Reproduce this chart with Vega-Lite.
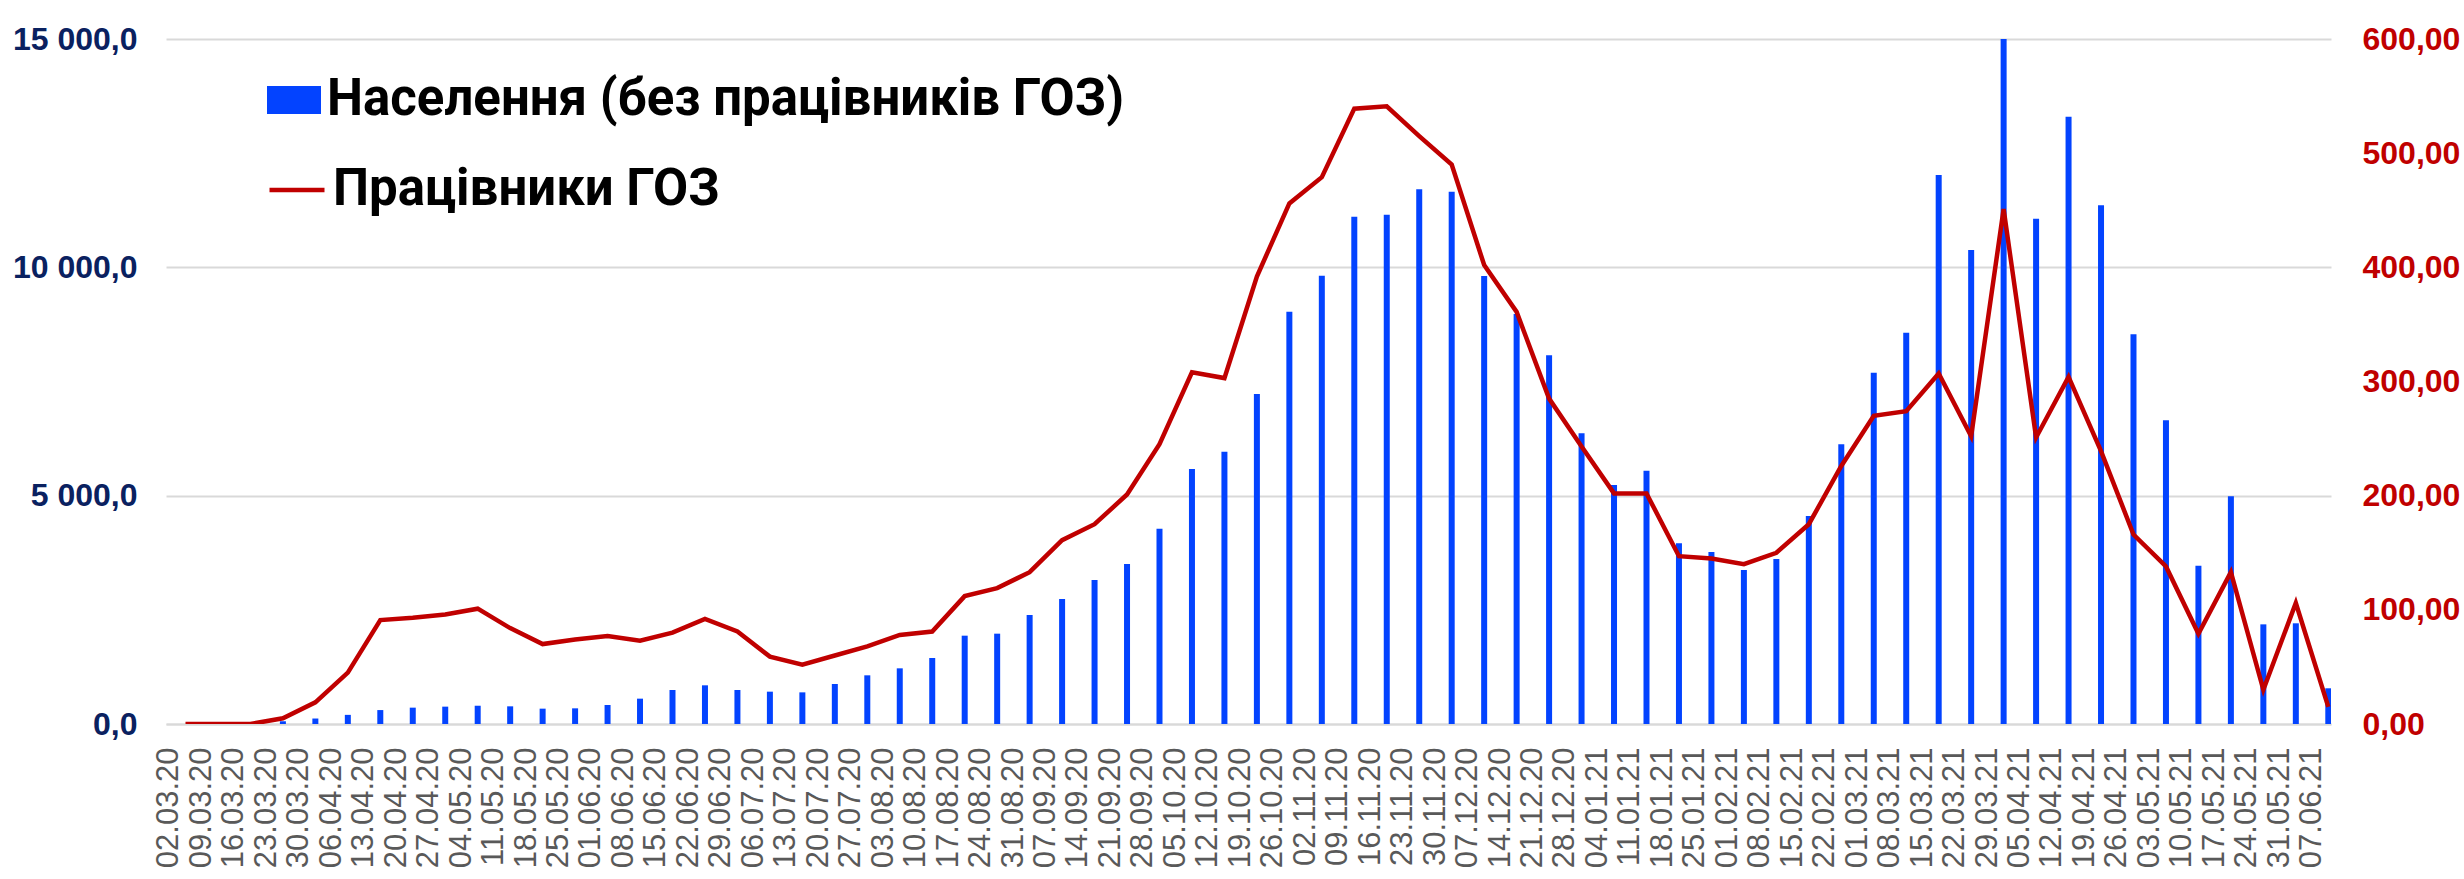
{
  "$schema": "https://vega.github.io/schema/vega-lite/v6.json",
  "width": 2165,
  "height": 685,
  "autosize": {"type": "none"},
  "padding": {"left": 166, "top": 39, "right": 133, "bottom": 155},
  "background": "white",
  "config": {"view": {"stroke": null}},
  "data": {"values": [
    {"d": "02.03.20", "pop": 0, "hcw": 0},
    {"d": "09.03.20", "pop": 0, "hcw": 0},
    {"d": "16.03.20", "pop": 0, "hcw": 0},
    {"d": "23.03.20", "pop": 60, "hcw": 5},
    {"d": "30.03.20", "pop": 120, "hcw": 19},
    {"d": "06.04.20", "pop": 200, "hcw": 45},
    {"d": "13.04.20", "pop": 305, "hcw": 91},
    {"d": "20.04.20", "pop": 358, "hcw": 93},
    {"d": "27.04.20", "pop": 380, "hcw": 96},
    {"d": "04.05.20", "pop": 400, "hcw": 101},
    {"d": "11.05.20", "pop": 387, "hcw": 84},
    {"d": "18.05.20", "pop": 336, "hcw": 70},
    {"d": "25.05.20", "pop": 343, "hcw": 74},
    {"d": "01.06.20", "pop": 416, "hcw": 77},
    {"d": "08.06.20", "pop": 555, "hcw": 73},
    {"d": "15.06.20", "pop": 745, "hcw": 80},
    {"d": "22.06.20", "pop": 847, "hcw": 92},
    {"d": "29.06.20", "pop": 745, "hcw": 81},
    {"d": "06.07.20", "pop": 708, "hcw": 59},
    {"d": "13.07.20", "pop": 693, "hcw": 52},
    {"d": "20.07.20", "pop": 876, "hcw": 60},
    {"d": "27.07.20", "pop": 1066, "hcw": 68},
    {"d": "03.08.20", "pop": 1219, "hcw": 78},
    {"d": "10.08.20", "pop": 1445, "hcw": 81},
    {"d": "17.08.20", "pop": 1934, "hcw": 112},
    {"d": "24.08.20", "pop": 1978, "hcw": 119},
    {"d": "31.08.20", "pop": 2387, "hcw": 133},
    {"d": "07.09.20", "pop": 2737, "hcw": 161},
    {"d": "14.09.20", "pop": 3153, "hcw": 175},
    {"d": "21.09.20", "pop": 3504, "hcw": 201},
    {"d": "28.09.20", "pop": 4277, "hcw": 245},
    {"d": "05.10.20", "pop": 5584, "hcw": 308},
    {"d": "12.10.20", "pop": 5964, "hcw": 303},
    {"d": "19.10.20", "pop": 7226, "hcw": 392},
    {"d": "26.10.20", "pop": 9028, "hcw": 456},
    {"d": "02.11.20", "pop": 9817, "hcw": 479},
    {"d": "09.11.20", "pop": 11109, "hcw": 539},
    {"d": "16.11.20", "pop": 11153, "hcw": 541},
    {"d": "23.11.20", "pop": 11708, "hcw": 515},
    {"d": "30.11.20", "pop": 11656, "hcw": 490},
    {"d": "07.12.20", "pop": 9810, "hcw": 402},
    {"d": "14.12.20", "pop": 8978, "hcw": 361},
    {"d": "21.12.20", "pop": 8073, "hcw": 285},
    {"d": "28.12.20", "pop": 6365, "hcw": 243},
    {"d": "04.01.21", "pop": 5233, "hcw": 202},
    {"d": "11.01.21", "pop": 5547, "hcw": 202},
    {"d": "18.01.21", "pop": 3957, "hcw": 147},
    {"d": "25.01.21", "pop": 3766, "hcw": 145},
    {"d": "01.02.21", "pop": 3372, "hcw": 140},
    {"d": "08.02.21", "pop": 3613, "hcw": 150},
    {"d": "15.02.21", "pop": 4554, "hcw": 175},
    {"d": "22.02.21", "pop": 6124, "hcw": 226},
    {"d": "01.03.21", "pop": 7693, "hcw": 270},
    {"d": "08.03.21", "pop": 8569, "hcw": 274},
    {"d": "15.03.21", "pop": 12022, "hcw": 307},
    {"d": "22.03.21", "pop": 10380, "hcw": 252},
    {"d": "29.03.21", "pop": 15000, "hcw": 451},
    {"d": "05.04.21", "pop": 11065, "hcw": 251},
    {"d": "12.04.21", "pop": 13299, "hcw": 304},
    {"d": "19.04.21", "pop": 11358, "hcw": 239},
    {"d": "26.04.21", "pop": 8533, "hcw": 166},
    {"d": "03.05.21", "pop": 6650, "hcw": 138},
    {"d": "10.05.21", "pop": 3467, "hcw": 79},
    {"d": "17.05.21", "pop": 4985, "hcw": 133},
    {"d": "24.05.21", "pop": 2182, "hcw": 30},
    {"d": "31.05.21", "pop": 2205, "hcw": 106},
    {"d": "07.06.21", "pop": 782, "hcw": 15}
  ]},
  "encoding": {
    "x": {
      "field": "d",
      "type": "ordinal",
      "sort": null,
      "scale": {"type": "point", "padding": 0.342, "align": 0.878},
      "axis": {
        "title": null,
        "labelAngle": -90,
        "labelFont": "Liberation Sans",
        "labelFontSize": 31,
        "labelColor": "#595959",
        "labelPadding": 23,
        "labelOffset": -16.6,
        "labelOverlap": false,
        "ticks": false,
        "tickSize": 0,
        "domain": true,
        "domainColor": "#D9D9D9",
        "domainWidth": 2,
        "grid": false
      }
    }
  },
  "layer": [
    {
      "mark": {"type": "bar", "width": 6, "clip": true},
      "encoding": {
        "y": {
          "field": "pop",
          "type": "quantitative",
          "scale": {"domain": [0, 15000], "nice": false},
          "axis": {
            "title": null,
            "values": [0, 5000, 10000, 15000],
            "labelExpr": "replace(replace(format(datum.value, ',.1f'), ',', ' '), '.', ',')",
            "grid": true,
            "gridColor": "#D9D9D9",
            "gridWidth": 2,
            "domain": false,
            "ticks": false,
            "tickSize": 0,
            "labelFont": "Liberation Sans",
            "labelFontWeight": "bold",
            "labelFontSize": 32,
            "labelColor": "#0A2160",
            "labelPadding": 29
          }
        },
        "fill": {
          "datum": "Населення (без працівників ГОЗ)",
          "type": "nominal",
          "scale": {"range": ["#0343FF"]},
          "legend": {
            "orient": "none",
            "legendX": 101,
            "legendY": 34,
            "title": null,
            "padding": 0,
            "symbolType": "M-1,-0.52H1V0.52H-1Z",
            "symbolSize": 2916,
            "symbolStrokeWidth": 0,
            "labelFont": "Roboto",
            "labelFontWeight": "bold",
            "labelFontSize": 51,
            "labelColor": "#000000",
            "labelOffset": 6,
            "labelLimit": 2000
          }
        }
      }
    },
    {
      "mark": {"type": "line", "strokeWidth": 4.5, "clip": true},
      "encoding": {
        "y": {
          "field": "hcw",
          "type": "quantitative",
          "scale": {"domain": [0, 600], "nice": false},
          "axis": {
            "orient": "right",
            "title": null,
            "values": [0, 100, 200, 300, 400, 500, 600],
            "labelExpr": "replace(format(datum.value, '.2f'), '.', ',')",
            "grid": false,
            "domain": false,
            "ticks": false,
            "tickSize": 0,
            "labelFont": "Liberation Sans",
            "labelFontWeight": "bold",
            "labelFontSize": 32,
            "labelColor": "#C00000",
            "labelPadding": 31
          }
        },
        "stroke": {
          "datum": "Працівники ГОЗ",
          "type": "nominal",
          "scale": {"range": ["#C00000"]},
          "legend": {
            "orient": "none",
            "legendX": 101,
            "legendY": 121,
            "title": null,
            "padding": 0,
            "symbolType": "stroke",
            "symbolSize": 3025,
            "symbolStrokeWidth": 4.5,
            "labelFont": "Roboto",
            "labelFontWeight": "bold",
            "labelFontSize": 51,
            "labelColor": "#000000",
            "labelOffset": 6,
            "labelLimit": 2000
          }
        }
      }
    }
  ],
  "resolve": {"scale": {"y": "independent"}}
}
